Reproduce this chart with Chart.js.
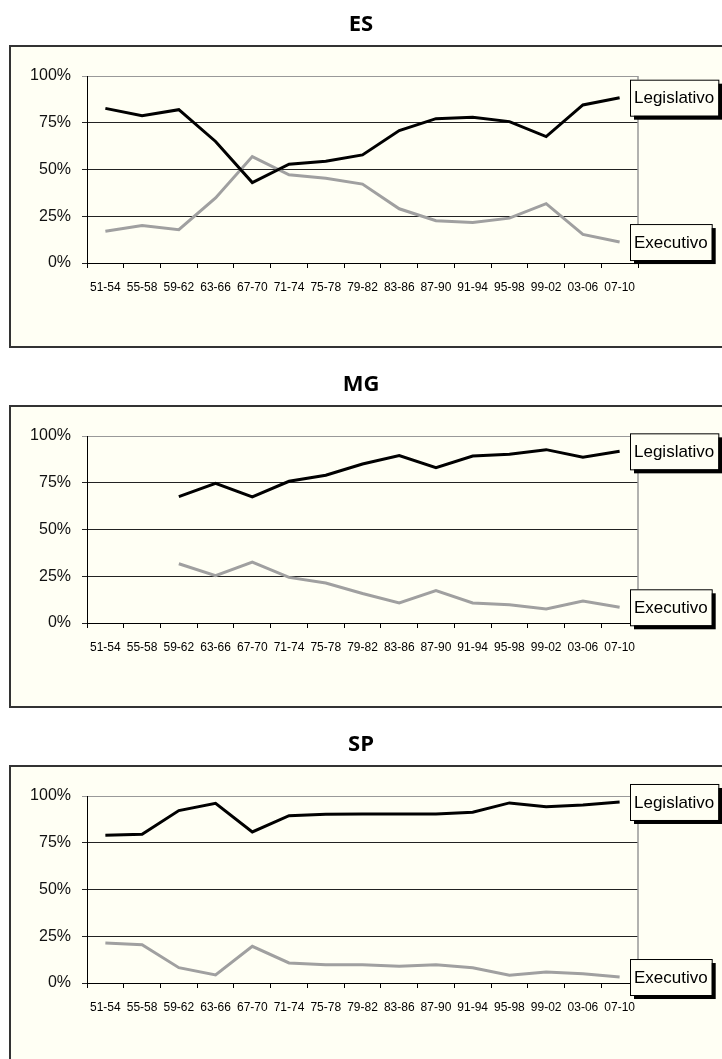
<!DOCTYPE html>
<html>
<head>
<meta charset="utf-8">
<script src="https://cdn.jsdelivr.net/npm/chart.js@4.4.1/dist/chart.umd.min.js"></script>
<style>
    body { margin: 0; background: #fff; width: 722px; height: 1059px; overflow: hidden; }
    canvas { display: block; }
</style>
</head>
<body>
<canvas id="chart-es" width="722" height="360"></canvas>
<canvas id="chart-mg" width="722" height="360"></canvas>
<canvas id="chart-sp" width="722" height="360"></canvas>
<script>
// 数据
const periods = ['51-54', '55-58', '59-62', '63-66', '67-70', '71-74', '75-78', '79-82',
    '83-86', '87-90', '91-94', '95-98', '99-02', '03-06', '07-10'];
const seriesNames = ['Legislativo', 'Executivo'];
const yTicks = [0, 25, 50, 75, 100];

const esLegislativo = [82.7, 78.8, 82.0, 65.0, 43.0, 52.8, 54.4, 57.8, 70.8, 77.2, 78.0, 75.6, 67.6, 84.5, 88.4];
const esExecutivo = [17.0, 20.0, 17.8, 34.8, 56.9, 47.2, 45.3, 42.2, 29.0, 22.6, 21.6, 24.0, 31.7, 15.3, 11.2];

const mgLegislativo = [null, null, 67.6, 74.7, 67.4, 75.8, 79.0, 85.0, 89.5, 83.0, 89.3, 90.2, 92.7, 88.6, 91.8];
const mgExecutivo = [null, null, 31.7, 25.3, 32.6, 24.4, 21.4, 15.8, 10.7, 17.3, 10.7, 9.8, 7.5, 11.7, 8.4];

const spLegislativo = [79.0, 79.5, 92.2, 96.1, 80.8, 89.5, 90.2, 90.4, 90.4, 90.4, 91.3, 96.3, 94.3, 95.2, 96.8];
const spExecutivo = [21.4, 20.5, 8.2, 4.3, 19.6, 10.7, 9.8, 9.8, 8.9, 9.8, 8.2, 4.1, 5.9, 5.0, 3.2];

const BG = '#fffff4';
const FONT = '"Liberation Sans", Arial, sans-serif';

// 外框
const panelBox = {
    id: 'panelBox',
    beforeDraw(chart) {
        const ctx = chart.ctx;
        ctx.save();
        ctx.fillStyle = BG;
        ctx.fillRect(10, 46, 760, 301);
        ctx.strokeStyle = '#333';
        ctx.lineWidth = 2;
        ctx.strokeRect(10, 46, 760, 301);
        ctx.restore();
    },
    beforeDatasetsDraw(chart) {
        // 右侧灰色边线
        const a = chart.chartArea;
        const ctx = chart.ctx;
        ctx.save();
        ctx.strokeStyle = '#999';
        ctx.lineWidth = 1.5;
        ctx.beginPath();
        ctx.moveTo(a.right, a.top);
        ctx.lineTo(a.right, a.bottom);
        ctx.stroke();
        ctx.restore();
    }
};

// 系列标签（末端）
const endLabels = {
    id: 'endLabels',
    afterDatasetsDraw(chart) {
        const ctx = chart.ctx;
        const a = chart.chartArea;
        ctx.save();
        ctx.font = '17px ' + FONT;
        chart.data.datasets.forEach((ds, i) => {
            const meta = chart.getDatasetMeta(i);
            const pt = meta.data[meta.data.length - 1];
            const w = ctx.measureText(ds.label).width + 8;
            const h = 36;
            const x = a.right - 8;
            const y = pt.y - h / 2;
            ctx.fillStyle = '#000';
            ctx.fillRect(x + 4, y + 4, w, h);
            ctx.fillStyle = BG;
            ctx.fillRect(x, y, w, h);
            ctx.strokeStyle = '#000';
            ctx.lineWidth = 1;
            ctx.strokeRect(x + 0.5, y + 0.5, w, h);
            ctx.fillStyle = '#000';
            ctx.textBaseline = 'middle';
            ctx.fillText(ds.label, x + 4, pt.y + 1);
        });
        ctx.restore();
    }
};

function makeChart(id, title, legis, exec) {
    return new Chart(document.getElementById(id), {
        type: 'line',
        data: {
            labels: periods,
            datasets: [{
                label: seriesNames[0],
                data: legis,
                borderColor: '#000',
                borderWidth: 3,
                pointRadius: 0,
                tension: 0
            }, {
                label: seriesNames[1],
                data: exec,
                borderColor: '#a0a0a0',
                borderWidth: 3,
                pointRadius: 0,
                tension: 0
            }]
        },
        options: {
            responsive: false,
            animation: false,
            devicePixelRatio: 1,
            layout: {
                padding: 0
            },
            scales: {
                x: {
                    offset: true,
                    grid: {
                        offset: true,
                        drawOnChartArea: false,
                        tickLength: 5,
                        color: '#000'
                    },
                    border: { color: '#000', width: 1 },
                    ticks: {
                        autoSkip: false,
                        maxRotation: 0,
                        padding: 12,
                        color: '#000',
                        font: { family: FONT, size: 12 }
                    },
                    afterFit: s => { s.height = 97; }
                },
                y: {
                    min: 0,
                    max: 100,
                    afterBuildTicks: s => { s.ticks = yTicks.map(v => ({ value: v })); },
                    grid: {
                        tickLength: 5,
                        color: c => (c.tick && c.tick.value === 100) ? '#999' : '#222',
                        lineWidth: 1
                    },
                    border: { color: '#000', width: 1 },
                    ticks: {
                        padding: 11,
                        color: '#111',
                        font: { family: FONT, size: 16 },
                        callback: v => v + '%'
                    },
                    afterFit: s => { s.width = 87; }
                },
                // 右侧留白（放标签）
                spacer: {
                    type: 'linear',
                    position: 'right',
                    min: 0,
                    max: 100,
                    grid: { display: false },
                    border: { display: false },
                    ticks: { display: false },
                    afterFit: s => { s.width = 84; }
                }
            },
            plugins: {
                legend: { display: false },
                tooltip: { enabled: false },
                title: {
                    display: true,
                    text: title,
                    color: '#000',
                    font: { family: '"Open Sans", sans-serif', size: 22, weight: 'bold', lineHeight: 1.2 },
                    padding: { top: 12, bottom: 37.6 }
                }
            }
        },
        plugins: [panelBox, endLabels]
    });
}

makeChart('chart-es', 'ES', esLegislativo, esExecutivo);
makeChart('chart-mg', 'MG', mgLegislativo, mgExecutivo);
makeChart('chart-sp', 'SP', spLegislativo, spExecutivo);
</script>
</body>
</html>
